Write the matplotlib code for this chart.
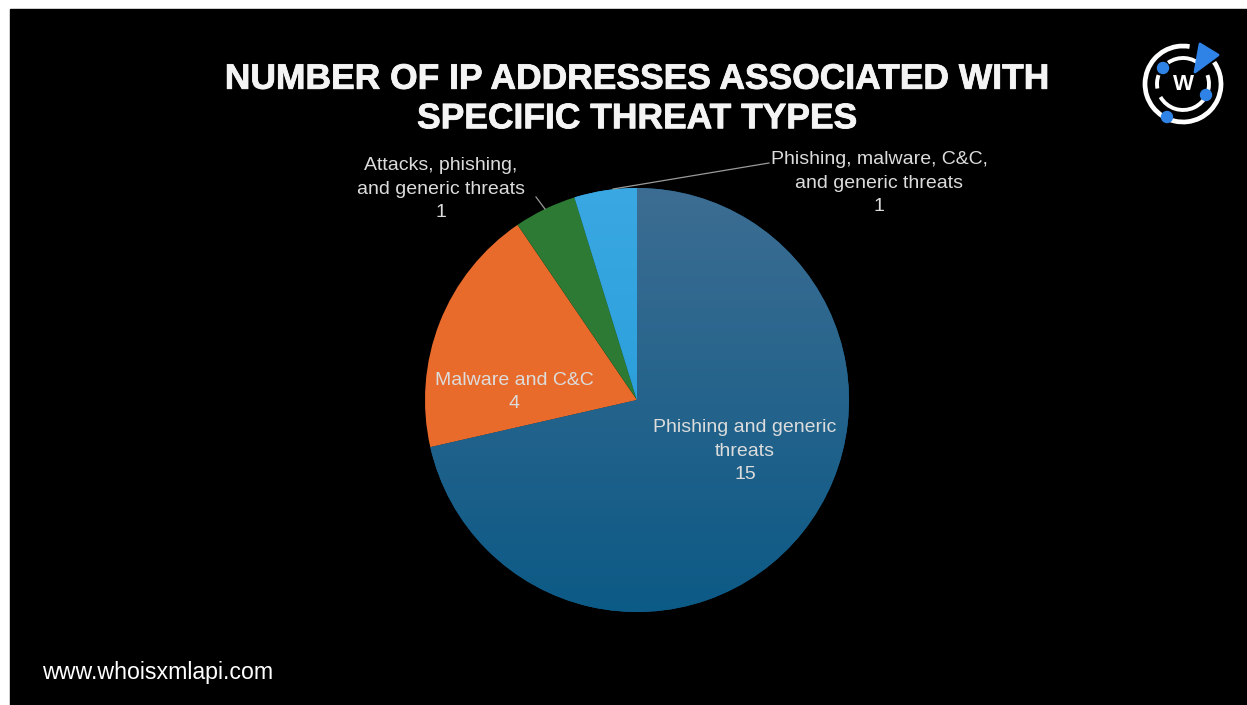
import numpy as np
import matplotlib.pyplot as plt
import matplotlib.colors as mcolors
import matplotlib.patheffects as pe
from matplotlib.patches import Rectangle, Circle, Polygon, Arc

# data
threat_types = [
    "Phishing and generic\nthreats",
    "Malware and C&C",
    "Attacks, phishing,\nand generic threats",
    "Phishing, malware, C&C,\nand generic threats",
]
ip_counts = [15, 4, 1, 1]
slice_colors = ["#16618c", "#e96b2b", "#2d7a34", "#2ba2de"]

title = "NUMBER OF IP ADDRESSES ASSOCIATED WITH\nSPECIFIC THREAT TYPES"
footer = "www.whoisxmlapi.com"

W, H = 1247, 705
plt.rcParams["font.family"] = ["Liberation Sans", "DejaVu Sans"]

fig = plt.figure(figsize=(W / 100, H / 100), dpi=100, facecolor="white")
ax = fig.add_axes([0, 0, 1, 1])


def Y(y):
    # pixel row (from top) -> data y
    return H - y


# black slide
ax.add_patch(Rectangle((10, 0), W - 10, H - 9, color="black", zorder=0))

# pie
cx, cy, r = 637, Y(400), 212
wedges, _ = ax.pie(
    ip_counts,
    colors=slice_colors,
    startangle=90,
    counterclock=False,
    center=(cx, cy),
    radius=r,
    frame=True,
    wedgeprops=dict(linewidth=0),
)

# vertical shading on the blue slices
grad = np.linspace(0, 1, 256).reshape(-1, 1)
for w, top, bot in [(wedges[0], "#3d6d92", "#0c5a86"), (wedges[3], "#3aa8e2", "#1e98d6")]:
    c1 = np.array(mcolors.to_rgb(top))
    c2 = np.array(mcolors.to_rgb(bot))
    img = c1 * (1 - grad[..., None]) + c2 * grad[..., None]
    im = ax.imshow(img, extent=(cx - r, cx + r, cy - r, cy + r), origin="upper",
                   aspect="auto", zorder=w.get_zorder() + 0.1)
    im.set_clip_path(w)

ax.set_xlim(0, W)
ax.set_ylim(0, H)
ax.set_aspect("equal")
ax.axis("off")

lab_col = "#dcdcdc"
fs = 14
ls = 1.5
# slice labels
label_pos = [(745, 451), (514, 392), (441, 189), (879, 183)]
for name, n, (tx, ty) in zip(threat_types, ip_counts, label_pos):
    ax.text(tx, Y(ty), f"{name}\n{n}", ha="center", va="center",
            color=lab_col, fontsize=fs, linespacing=ls, zorder=5)

# leader lines
ax.plot([536, 545], [Y(197), Y(209)], color="#9a9a9a", lw=0.9, zorder=5)
ax.plot([769, 613], [Y(163), Y(189)], color="#9a9a9a", lw=0.9, zorder=5)

# title
ax.text(637, Y(99), title, ha="center", va="center", color="#f4f4f4", fontsize=25.5,
        fontweight="bold", linespacing=1.25, zorder=5,
        path_effects=[pe.withStroke(linewidth=0.6, foreground="#f4f4f4")])

# footer
ax.text(42, Y(673), footer, ha="left", va="center", color="white", fontsize=16.7, zorder=5)

# logo
lx, ly = 1183, Y(84)
blue = "#2f83e6"
ax.add_patch(Arc((lx, ly), 76, 76, theta1=80, theta2=395, ec="white", lw=3.4, zorder=6))
ax.add_patch(Arc((lx, ly), 52, 52, theta1=-150, theta2=20, ec="white", lw=2.8, zorder=6))
ax.add_patch(Arc((lx, ly), 52, 52, theta1=45, theta2=125, ec="white", lw=2.8, zorder=6))
ax.add_patch(Arc((lx, ly), 52, 52, theta1=160, theta2=190, ec="white", lw=2.8, zorder=6))
ax.add_patch(Polygon([(lx + 17, ly + 40), (lx + 35, ly + 29), (lx + 12, ly + 12)],
                     closed=True, color=blue, zorder=7, joinstyle="round", lw=2, ec=blue))
for dx, dy, rr in [(-20, 16, 5.5), (23, -11, 5.5), (-16, -33, 5.5)]:
    ax.add_patch(Circle((lx + dx, ly + dy), rr, color=blue, zorder=7))
ax.text(lx, ly - 1, "W", ha="center", va="center", color="white", fontsize=16,
        fontweight="bold", zorder=7)

fig.savefig("out.png", dpi=100, facecolor="white")
